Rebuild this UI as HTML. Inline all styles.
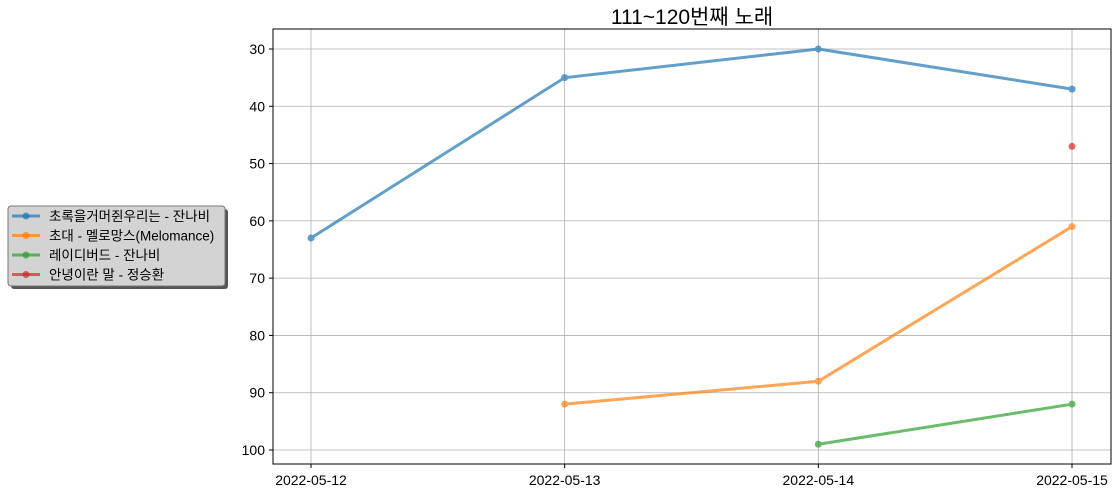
<!DOCTYPE html>
<html><head><meta charset="utf-8"><style>
body{margin:0;background:#fff;}
svg text{font-family:"Liberation Sans","Noto Sans CJK KR",sans-serif;fill:#000;}
</style></head><body>
<svg width="1118" height="494" xmlns="http://www.w3.org/2000/svg">
<text x="692" y="24" text-anchor="middle" font-size="21">111~120번째 노래</text>
<g id="grid"></g>
<g id="series"></g>
<rect x="273" y="29" width="838" height="435" fill="none" stroke="#000" stroke-width="1"/>
<g id="ticks"></g>
<g>
<rect x="11" y="209" width="217" height="80" rx="3" fill="#555"/>
<rect x="8" y="206" width="217" height="80" rx="3" fill="#d3d3d3" stroke="#777"/>
<g id="legend"></g>
</g>
</svg>
<script>
const categories=["2022-05-12","2022-05-13","2022-05-14","2022-05-15"];
const seriesNames=["초록을거머쥔우리는 - 잔나비","초대 - 멜로망스(Melomance)","레이디버드 - 잔나비","안녕이란 말 - 정승환"];
const blueValues=[63,35,30,37];
const orangeValues=[null,92,88,61];
const greenValues=[null,null,99,92];
const redValues=[null,null,null,47];
const yTicks=[30,40,50,60,70,80,90,100];
const colors=["#1f77b4","#ff7f0e","#2ca02c","#d62728"];
const allSeries=[blueValues,orangeValues,greenValues,redValues];
const NS="http://www.w3.org/2000/svg";
const x=i=>311+i*253.67;
const y=v=>49+(v-30)*401/70;
function mk(t,a,p){const e=document.createElementNS(NS,t);for(const k in a)e.setAttribute(k,a[k]);p.appendChild(e);return e;}
const grid=document.getElementById('grid'),ticks=document.getElementById('ticks');
categories.forEach((c,i)=>{
 const l=mk('line',{x1:x(i),x2:x(i),y1:29,y2:464,stroke:'#b0b0b0','stroke-width':0.8},grid);
 
 
 const tk=mk('line',{x1:x(i),x2:x(i),y1:464,y2:468,stroke:'#000'},ticks);
 
 
 const t=mk('text',{x:x(i),y:485,'text-anchor':'middle','font-size':14},ticks);t.textContent=c;
 
 
});
yTicks.forEach(v=>{
 const l=mk('line',{x1:273,x2:1111,y1:y(v),y2:y(v),stroke:'#b0b0b0','stroke-width':0.8},grid);
 
 
 const tk=mk('line',{x1:269,x2:273,y1:y(v),y2:y(v),stroke:'#000'},ticks);
 
 
 const t=mk('text',{x:265,y:y(v)+5,'text-anchor':'end','font-size':14},ticks);t.textContent=v;
 
 
});
const sg=document.getElementById('series');
allSeries.forEach((vals,s)=>{
 const g=mk('g',{opacity:0.7},sg);
 
 
 const pts=[];vals.forEach((v,i)=>{if(v!==null)pts.push([x(i),y(v)]);});
 if(pts.length>1){const p=mk('polyline',{points:pts.map(p=>p.join(',')).join(' '),fill:'none',stroke:colors[s],'stroke-width':3},g);
 
 }
 pts.forEach(p=>{const c=mk('circle',{cx:p[0],cy:p[1],r:3.5,fill:colors[s]},g);
 
 });
});
const lg=document.getElementById('legend');
seriesNames.forEach((n,i)=>{
 const yy=216+i*19.5;
 const g=mk('g',{},lg);
 
 
 mk('line',{x1:12,x2:40,y1:yy,y2:yy,stroke:colors[i],'stroke-width':3,opacity:0.7},g);
 mk('circle',{cx:26,cy:yy,r:3.5,fill:colors[i],opacity:0.7},g);
 const t=mk('text',{x:49,y:yy+5,'font-size':13.5},g);t.textContent=n;
});
</script>
</body></html>
